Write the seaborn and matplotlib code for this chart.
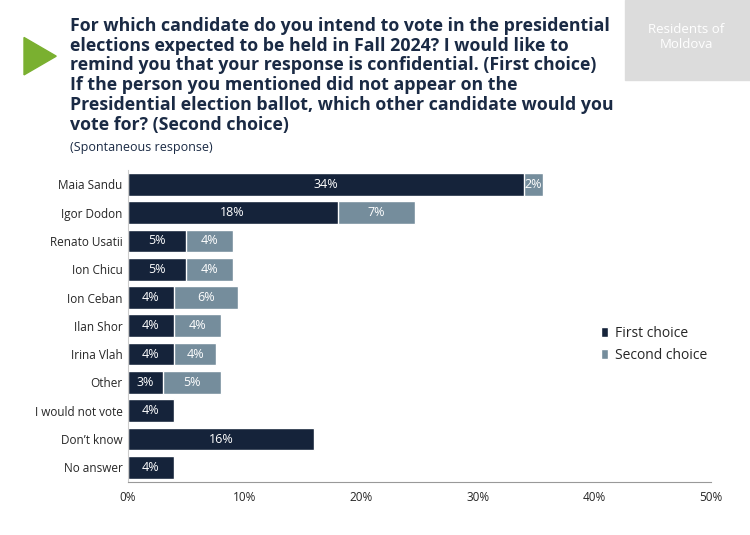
import pandas as pd
import matplotlib.pyplot as plt
import seaborn as sns
from matplotlib.patches import Polygon, Rectangle

candidates = ['Maia Sandu', 'Igor Dodon', 'Renato Usatii', 'Ion Chicu', 'Ion Ceban',
              'Ilan Shor', 'Irina Vlah', 'Other', 'I would not vote', 'Don\u2019t know', 'No answer']
first = [34.0, 18.0, 5.0, 5.0, 4.0, 4.0, 4.0, 3.0, 4.0, 16.0, 4.0]
second = [1.6, 6.6, 4.0, 4.0, 5.5, 4.0, 3.6, 5.0, 0, 0, 0]
first_lbl = ['34%', '18%', '5%', '5%', '4%', '4%', '4%', '3%', '4%', '16%', '4%']
second_lbl = ['2%', '7%', '4%', '4%', '6%', '4%', '4%', '5%', '', '', '']

dark = '#0f2140'
light = '#6f8ea2'

sns.set_style('white')
plt.rcParams['font.family'] = ['Open Sans', 'DejaVu Sans']

df = pd.DataFrame({'cand': candidates, 'first': first,
                   'total': [a + b for a, b in zip(first, second)]})

fig = plt.figure(figsize=(7.5, 5.35), dpi=100)
ax = fig.add_axes([0.17, 0.1, 0.778, 0.582])
sns.barplot(data=df, y='cand', x='total', color=light, width=0.8, ax=ax, label='Second choice')
sns.barplot(data=df, y='cand', x='first', color=dark, width=0.8, ax=ax, label='First choice')

for i in range(len(candidates)):
    ax.text(first[i] / 2, i, first_lbl[i], color='white', ha='center', va='center', fontsize=9)
    if second_lbl[i]:
        ax.text(first[i] + second[i] / 2, i, second_lbl[i], color='white', ha='center', va='center', fontsize=9)

ax.set_xlim(0, 50)
ax.set_xticks(range(0, 51, 10))
ax.set_xticklabels([f'{v}%' for v in range(0, 51, 10)], fontsize=8.5)
ax.tick_params(axis='y', labelsize=8.5, length=0)
ax.tick_params(axis='x', length=3, color='#999999')
ax.set_xlabel('')
ax.set_ylabel('')
for s in ['top', 'right']:
    ax.spines[s].set_visible(False)
ax.spines['left'].set_color('#cccccc')
ax.spines['bottom'].set_color('#999999')

h, l = ax.get_legend_handles_labels()
ax.legend(h[::-1], l[::-1], loc='center left', bbox_to_anchor=(0.79, 0.44), frameon=False,
          fontsize=10, handlelength=0.5, handleheight=0.7, handletextpad=0.5)

# header
fig.patches.append(Polygon([[0.032, 0.86], [0.032, 0.93], [0.075, 0.895]], closed=True,
                           transform=fig.transFigure, color='#7ab030'))
fig.patches.append(Rectangle((0.833, 0.85), 0.167, 0.15, transform=fig.transFigure, color='#dcdcdc'))
fig.text(0.915, 0.93, 'Residents of\nMoldova', ha='center', va='center', color='white', fontsize=9.5)
fig.text(0.093, 0.968, 'For which candidate do you intend to vote in the presidential\n'
         'elections expected to be held in Fall 2024? I would like to\n'
         'remind you that your response is confidential. (First choice)\n'
         'If the person you mentioned did not appear on the\n'
         'Presidential election ballot, which other candidate would you\n'
         'vote for? (Second choice)', ha='left', va='top', fontsize=12.8,
         fontweight='bold', color='#1a2a44', linespacing=1.12)
fig.text(0.093, 0.737, '(Spontaneous response)', ha='left', va='top', fontsize=9, color='#1a2a44')

fig.savefig('out.png', dpi=100)
